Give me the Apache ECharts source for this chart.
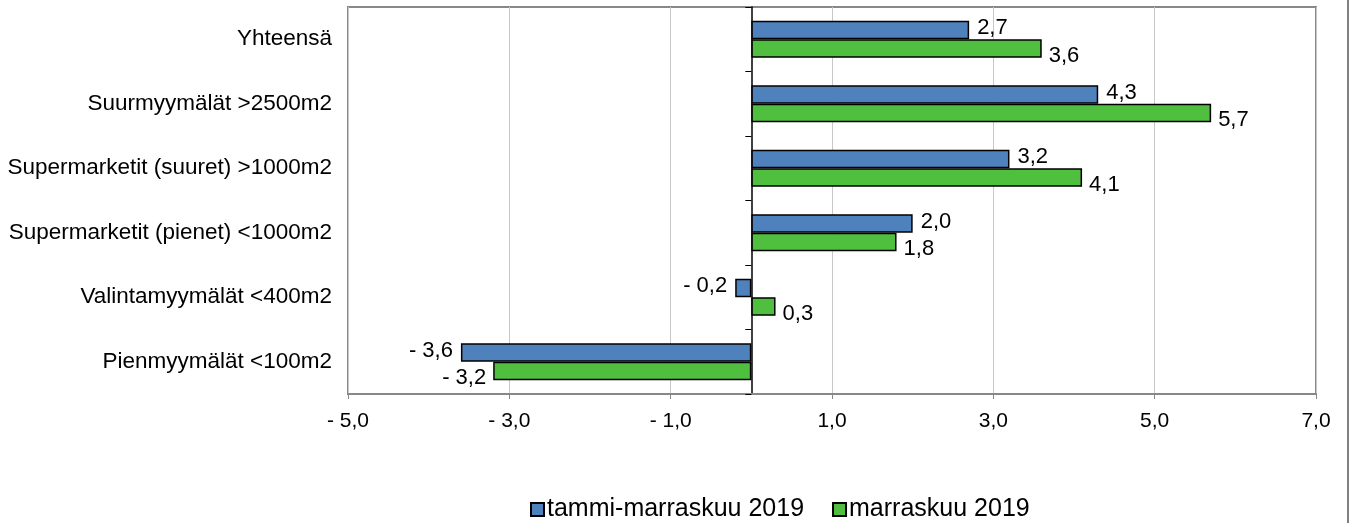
<!DOCTYPE html>
<html>
<head>
<meta charset="utf-8">
<script src="https://cdn.jsdelivr.net/npm/echarts@6/dist/echarts.min.js"></script>
<style>
  html, body { margin: 0; padding: 0; background: #fff; }
  #chart { width: 1353px; height: 523px; }
</style>
</head>
<body>
<div id="chart"></div>
<script>
  // kategoriat ylhäältä alas
  var categories = ['Yhteensä', 'Suurmyymälät >2500m2', 'Supermarketit (suuret) >1000m2',
    'Supermarketit (pienet) <1000m2', 'Valintamyymälät <400m2', 'Pienmyymälät <100m2'];
  var tammiMarras = [2.7, 4.3, 3.2, 2.0, -0.2, -3.6];
  var marras = [3.6, 5.7, 4.1, 1.8, 0.3, -3.2];
  var seriesNames = ['tammi-marraskuu 2019', 'marraskuu 2019'];
  var xTicks = [-5, -3, -1, 1, 3, 5, 7];

  var font = 'Liberation Sans, Arial, sans-serif';

  function fmt(v) {
    return (v < 0 ? '- ' : '') + Math.abs(v).toFixed(1).replace('.', ',');
  }

  // negatiiviset arvot: nimiö palkin vasemmalle puolelle
  function items(arr) {
    return arr.map(function (v) {
      return { value: v, label: { position: v < 0 ? 'left' : 'right' } };
    });
  }

  var myChart = echarts.init(document.getElementById('chart'));
  myChart.setOption({
    animation: false,
    textStyle: { fontFamily: font },
    grid: {
      left: 348, right: 37, top: 7, bottom: 129,
      show: true, borderColor: '#888', borderWidth: 2
    },
    legend: {
      left: 525, top: 492,
      icon: 'rect', itemWidth: 13, itemHeight: 13, itemGap: 28,
      textStyle: { fontSize: 25, color: '#000', fontFamily: font, padding: [0, 0, 0, -2] },
      data: seriesNames
    },
    xAxis: {
      type: 'value',
      min: xTicks[0], max: xTicks[xTicks.length - 1], interval: 2,
      axisLine: { show: true, lineStyle: { color: '#888', width: 2 } },
      axisTick: { show: true, length: 5, lineStyle: { color: '#888' } },
      splitLine: { show: true, lineStyle: { color: '#c8c8c8', width: 1 } },
      axisLabel: { fontSize: 21, color: '#000', margin: 17, formatter: fmt }
    },
    yAxis: [
      {
        type: 'category', inverse: true, data: categories,
        axisLine: { show: false, onZero: false },
        axisTick: { show: false },
        axisLabel: { fontSize: 22.5, color: '#000', margin: 16 }
      },
      {
        type: 'category', inverse: true, data: categories, position: 'left',
        axisLine: { show: true, onZero: true, lineStyle: { color: '#000', width: 1.5 } },
        axisTick: { show: true, length: 6, lineStyle: { color: '#000' } },
        axisLabel: { show: false }
      }
    ],
    series: [
      {
        name: seriesNames[0], type: 'bar', yAxisIndex: 0,
        barGap: 0, barCategoryGap: '43%',
        data: items(tammiMarras),
        itemStyle: { color: '#4f81bd', borderColor: '#000', borderWidth: 1.5 },
        label: { show: true, fontSize: 22, color: '#000', distance: 8, offset: [0, -2],
          formatter: function (p) { return fmt(p.value); } }
      },
      {
        name: seriesNames[1], type: 'bar', yAxisIndex: 0,
        barGap: 0, barCategoryGap: '43%',
        data: items(marras),
        itemStyle: { color: '#50bf40', borderColor: '#000', borderWidth: 1.5 },
        label: { show: true, fontSize: 22, color: '#000', distance: 7, offset: [0, 7],
          formatter: function (p) { return fmt(p.value); } }
      }
    ],
    graphic: [
      {
        type: 'line', silent: true,
        shape: { x1: 1348, y1: 0, x2: 1348, y2: 523 },
        style: { stroke: '#808080', lineWidth: 2 }
      }
    ]
  });
</script>
</body>
</html>
